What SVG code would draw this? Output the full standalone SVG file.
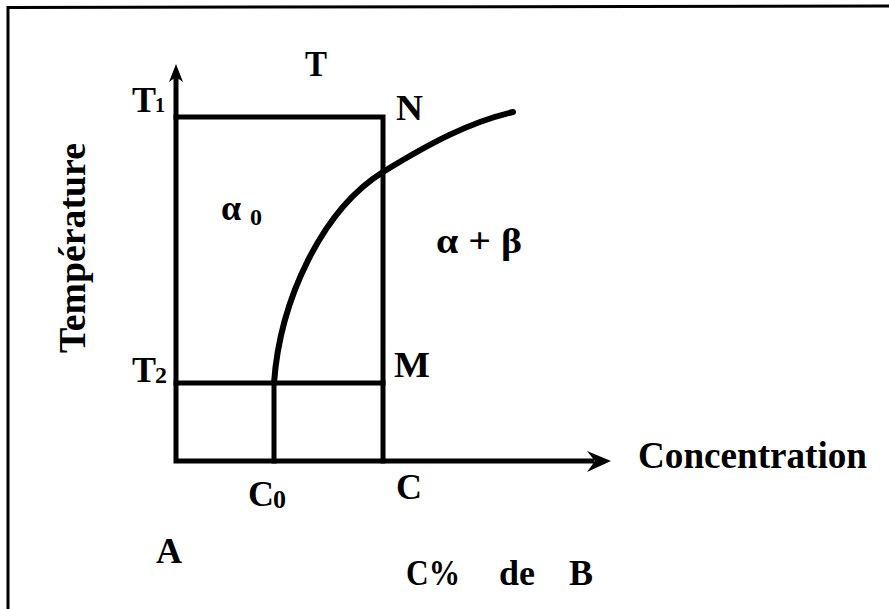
<svg xmlns="http://www.w3.org/2000/svg" width="889" height="609" viewBox="0 0 889 609">
<style>
.ln{stroke:#000;stroke-width:5;fill:none;stroke-linecap:square}
.t{font-family:"Liberation Serif","Times New Roman",serif;font-weight:bold;fill:#000}
.b{font-size:36px}
</style>
<rect width="889" height="609" fill="#fff"/>
<g id="frame">
<path d="M8,609 L8,7.5 L889,6" stroke="#000" stroke-width="3" fill="none"/>
</g>
<g id="connectors">
<path class="ln" d="M176,76 L176,461 L592,461"/>
<polygon points="176,64 183,82 176,77 169,82" fill="#000"/>
<polygon points="611,461 587,451 595,461 587,472" fill="#000"/>
<path class="ln" d="M176,117 L383,117 L383,461"/>
<path class="ln" d="M176,383 L383,383"/>
<path class="ln" d="M274,383 L274,461"/>
<path d="M274,383 C280,300 322,210 383,172 C430,143 470,122 513,112" stroke="#000" stroke-width="6" fill="none" stroke-linecap="round"/>
</g>
<g id="labels">
<text class="t b" x="305" y="76" textLength="22" lengthAdjust="spacingAndGlyphs">T</text>
<text class="t b" x="132" y="112">T<tspan font-size="20" dx="-1">1</tspan></text>
<text class="t b" x="396" y="120" textLength="27" lengthAdjust="spacingAndGlyphs">N</text>
<text class="t b" x="221" y="220">α<tspan font-size="24" dx="9" dy="5">0</tspan></text>
<text class="t b" x="436" y="253" textLength="86" lengthAdjust="spacingAndGlyphs">α + β</text>
<text class="t b" x="132" y="382">T<tspan font-size="24" dx="-1" dy="1">2</tspan></text>
<text class="t b" x="394" y="377" textLength="36" lengthAdjust="spacingAndGlyphs">M</text>
<text class="t b" x="248" y="506">C<tspan font-size="26" dx="-1" dy="2">0</tspan></text>
<text class="t b" x="396" y="499">C</text>
<text class="t" x="638" y="468" font-size="38" textLength="229" lengthAdjust="spacingAndGlyphs">Concentration</text>
<text class="t" transform="translate(85,353) rotate(-90)" font-size="38" textLength="210" lengthAdjust="spacingAndGlyphs">Température</text>
<text class="t b" x="156" y="563">A</text>
<text class="t b" x="406" y="585" textLength="54" lengthAdjust="spacingAndGlyphs">C%</text>
<text class="t b" x="499" y="585">de</text>
<text class="t b" x="569" y="585">B</text>
</g>
</svg>
